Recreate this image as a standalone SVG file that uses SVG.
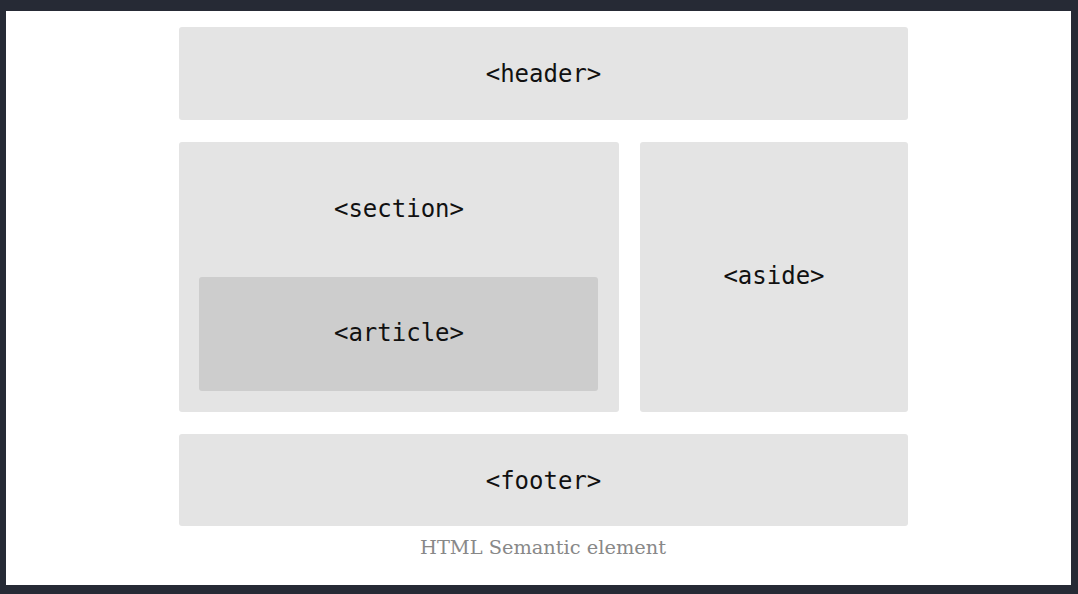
<svg xmlns="http://www.w3.org/2000/svg" width="1078" height="594" viewBox="0 0 1078 594">
  <style>
    .box { fill: #e4e4e4; }
    .inner { fill: #cdcdcd; }
    .lbl { font-family: "DejaVu Sans Mono", "Liberation Mono", monospace; font-size: 24px; fill: #111; text-anchor: middle; dominant-baseline: central; }
    .cap { font-family: "DejaVu Serif", "Liberation Serif", serif; font-size: 19px; fill: #888; text-anchor: middle; }
  </style>
  <rect x="0" y="0" width="1078" height="594" fill="#262a35"/>
  <rect x="6" y="11" width="1065" height="574" fill="#ffffff"/>
  <g id="header">
    <rect class="box" x="179" y="27" width="729" height="93" rx="3"/>
    <text class="lbl" x="543.5" y="74">&lt;header&gt;</text>
  </g>
  <g id="section">
    <rect class="box" x="179" y="142" width="440" height="270" rx="3"/>
    <text class="lbl" x="399" y="209">&lt;section&gt;</text>
  </g>
  <g id="article">
    <rect class="inner" x="199" y="277" width="399" height="114" rx="3"/>
    <text class="lbl" x="399" y="333">&lt;article&gt;</text>
  </g>
  <g id="aside">
    <rect class="box" x="640" y="142" width="268" height="270" rx="3"/>
    <text class="lbl" x="774" y="276">&lt;aside&gt;</text>
  </g>
  <g id="footer">
    <rect class="box" x="179" y="434" width="729" height="92" rx="3"/>
    <text class="lbl" x="543.5" y="481">&lt;footer&gt;</text>
  </g>
  <g id="connectors"></g>
  <text class="cap" x="543" y="554" textLength="246" lengthAdjust="spacingAndGlyphs">HTML Semantic element</text>
</svg>
